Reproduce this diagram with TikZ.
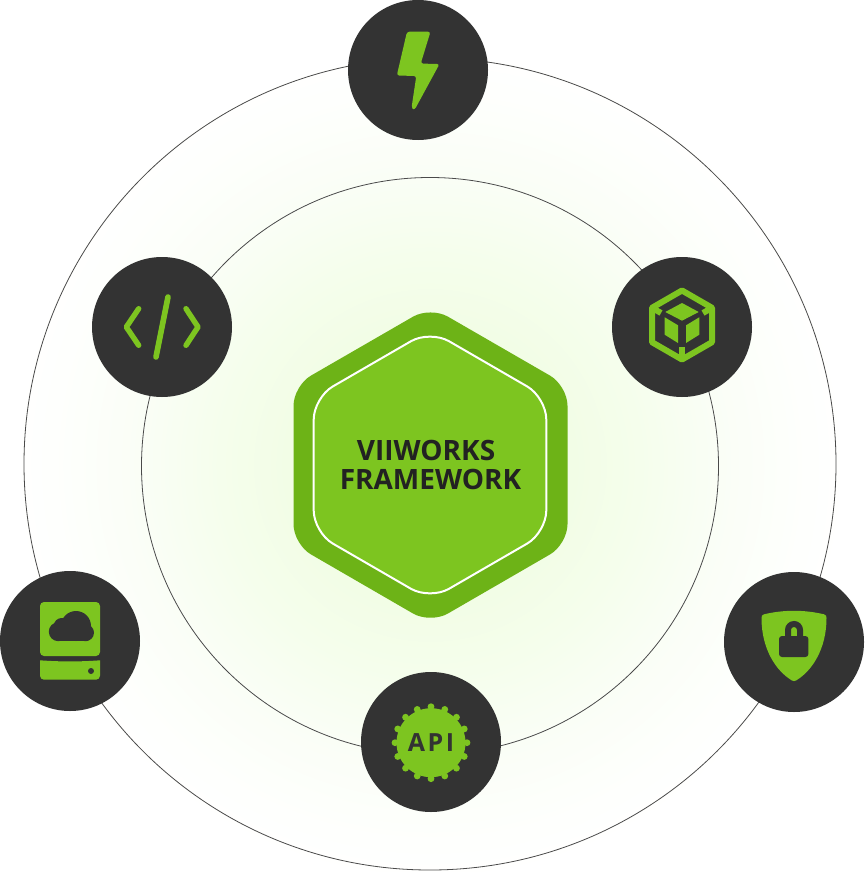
\documentclass[tikz,border=0pt]{standalone}
\usepackage{fontspec}
\setmainfont{Open Sans}
\definecolor{dark}{HTML}{333333}
\definecolor{leaf}{HTML}{7DC520}
\definecolor{leafdeep}{HTML}{6DB317}
\definecolor{ink}{HTML}{222222}
\definecolor{ringline}{HTML}{4A4A4A}
\definecolor{glowa}{HTML}{F1FDE4}
\definecolor{glowb}{HTML}{F2FDE6}
\definecolor{glowc}{HTML}{F5FEEC}
\definecolor{glowd}{HTML}{FAFEF6}
\definecolor{glowe}{HTML}{FEFFFD}
\pgfdeclareradialshading{glow}{\pgfpoint{0bp}{0bp}}{color(0bp)=(glowa); color(8.5bp)=(glowb); color(12.5bp)=(glowc); color(17.25bp)=(glowd); color(22.5bp)=(glowe); color(25bp)=(white); color(50bp)=(white)}
\tikzset{
  ring/.style={draw=ringline,line width=0.8pt},
  badge/.style={circle,fill=dark,minimum size=140pt,inner sep=0pt,outer sep=0pt},
  glyph/.style={fill=leaf,draw=none},
  glyphdark/.style={fill=dark,draw=none},
  stroke/.style={draw=leaf,line cap=round,line join=round,fill=none},
}
\begin{document}
\begin{tikzpicture}[x=1pt,y=-1pt]
\useasboundingbox (0,0) rectangle (864,872);
\fill[white] (0,0) rectangle (864,872);
\begin{scope}
\clip (0,0) rectangle (864,872);
\shade[shading=glow] (430,465) circle[radius=420];
\end{scope}
\draw[ring] (430,464) circle[radius=406];
\draw[ring] (430,466) circle[radius=288.5];

% central hexagon
\fill[leafdeep,rounded corners=20pt] (430.5,306.6) -- (567.5,385.7) -- (567.5,544.3) -- (430.5,623.6) -- (293.5,544.3) -- (293.5,385.7) -- cycle;
\path[fill=leaf,draw=white,line width=2pt,rounded corners=22pt] (430,330.2) -- (546.3,397.5) -- (546.3,532.5) -- (430,599.8) -- (313.7,532.5) -- (313.7,397.5) -- cycle;
\node[font=\fontsize{28}{28.6}\selectfont\bfseries,text=ink,align=center,inner sep=0pt] (title) at (430.5,465) {VIIWORKS\kern9pt\\FRAMEWORK};

% badges
\node[badge] (bolt) at (418,70) {};
\node[badge] (cube) at (682,327) {};
\node[badge] (lock) at (794,642) {};
\node[badge] (api) at (431,742) {};
\node[badge] (cloud) at (70,641) {};
\node[badge] (code) at (162,327) {};

% bolt icon
\fill[glyph,rounded corners=2.5pt] (407,31.7) -- (430.5,31.7) -- (420.7,63.6) -- (439.5,64) -- (414.5,110) -- (411.5,108) -- (416.3,76) -- (396.8,75.5) -- cycle;

% cube icon
\draw[draw=leaf,line width=6pt,line join=round] (682,290.5) -- (712,307.8) -- (712,342.2) -- (682,359.5) -- (652,342.2) -- (652,307.8) -- cycle;
\draw[draw=leaf,line width=6pt] (652,307.8) -- (661,313);
\draw[draw=leaf,line width=6pt] (712,307.8) -- (703,313);
\draw[draw=leaf,line width=6.6pt] (682,359.5) -- (682,346.5);
\fill[glyph] (682,303) -- (698.7,312) -- (682,320.7) -- (665.3,312) -- cycle;
\fill[glyph] (664.7,317.3) -- (678,325.3) -- (678,343) -- (664.7,334.7) -- cycle;
\fill[glyph] (699.3,317.3) -- (686,325.3) -- (686,343) -- (699.3,334.7) -- cycle;

% shield icon
\fill[glyph] (764,614.3) .. controls (784,609.6) and (804,609.6) .. (824,614.3)
  .. controls (826,614.8) and (826.5,616) .. (826.5,618)
  .. controls (826.5,649) and (812,671) .. (796,680.5)
  .. controls (794.8,681.3) and (793.2,681.3) .. (792,680.5)
  .. controls (776,671) and (761.5,649) .. (761.5,618)
  .. controls (761.5,616) and (762,614.8) .. (764,614.3) -- cycle;
\fill[glyphdark,rounded corners=3pt] (779,636) rectangle (808.4,657);
\draw[draw=dark,line width=6pt] (788,638) -- (788,630) arc[start angle=180,end angle=360,radius=6] -- (800,638);

% API icon
\fill[glyph] (431,742.7) circle[radius=34.5];
\foreach \a in {0,22.5,...,337.5}
  \fill[glyph] (431,742.7) ++(\a:36) circle[radius=3.4];
\node[font=\fontsize{25}{25}\selectfont\bfseries,text=dark,inner sep=0pt] (apitext) at (431,742.7) {A\kern2.5pt P\kern2.5pt I};

% cloud drive icon
\fill[glyph,rounded corners=4pt] (40,602) rectangle (100,656);
\fill[glyph] (40,660.3) .. controls (60,661.8) and (80,661.8) .. (100,660.3) -- (100,675.7) arc[start angle=0,end angle=90,radius=4] -- (44,679.7) arc[start angle=90,end angle=180,radius=4] -- cycle;
\fill[glyphdark] (91,671) circle[radius=3];
\fill[glyphdark] (58.3,631.7) circle[radius=9.5];
\fill[glyphdark] (61.7,626) circle[radius=8];
\fill[glyphdark] (76,626) circle[radius=15];
\fill[glyphdark] (85.5,632.7) circle[radius=8.5];
\fill[glyphdark] (58.3,628) rectangle (85.5,641.2);

% code icon
\draw[stroke,line width=5.4pt] (138.7,308.7) -- (126.3,327) -- (138.7,345.3);
\draw[stroke,line width=5.4pt] (186,308.7) -- (198,327) -- (186,345.3);
\draw[stroke,line width=5.6pt] (168,297) -- (156,357);
\end{tikzpicture}
\end{document}
